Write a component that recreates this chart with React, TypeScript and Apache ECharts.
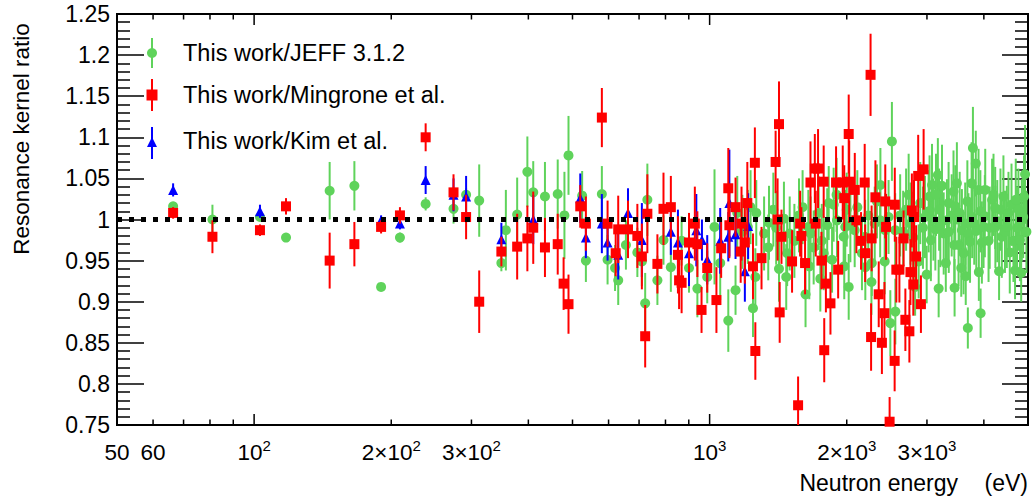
import { useEffect, useRef } from 'react';
import * as echarts from 'echarts';

const FONT = '"Liberation Sans", Arial, Helvetica, sans-serif';
const GREEN = '#5fd35b';
const RED = '#ff0000';
const BLUE = '#0000ff';

// [neutron energy (eV), ratio, error]
const jeffRatio: number[][] = [
  [66.4, 1.016, 0.005], [81, 1.0, 0.018], [103, 1.003, 0.005], [117.5, 0.978, 0.005],
  [146.5, 1.035, 0.035], [166, 1.041, 0.03], [190, 0.918, 0.005], [209, 0.978, 0.006],
  [238, 1.019, 0.008], [274, 1.013, 0.018], [292, 1.03, 0.008], [312, 1.023, 0.044],
  [349, 0.947, 0.01], [357, 0.987, 0.049], [378, 1.006, 0.045], [398, 1.058, 0.043],
  [410, 1.033, 0.038], [435, 1.028, 0.042], [464, 1.031, 0.042], [480, 1.005, 0.053],
  [490, 1.078, 0.048], [525, 1.029, 0.03], [535, 0.95, 0.026], [580, 1.031, 0.034],
  [597, 0.951, 0.03], [620, 0.941, 0.028], [630, 0.926, 0.03], [655, 0.969, 0.03],
  [694, 0.96, 0.03], [710, 0.949, 0.03], [722, 0.898, 0.037], [730, 1.024, 0.044],
  [768, 0.926, 0.03], [792, 0.975, 0.03], [822, 0.942, 0.03], [868, 0.974, 0.03],
  [901, 0.941, 0.03], [940, 0.916, 0.035], [988, 0.93, 0.032], [1025, 0.991, 0.07],
  [1055, 0.947, 0.045], [1099, 0.877, 0.038], [1140, 0.914, 0.03], [1150, 1.008, 0.045],
  [1180, 0.985, 0.045], [1213, 0.991, 0.045], [1230, 1.015, 0.045], [1245, 0.892, 0.035],
  [1260, 0.93, 0.035], [1266, 1.008, 0.04], [1317, 0.983, 0.045], [1345, 0.966, 0.04],
  [1350, 0.996, 0.045], [1380, 1.012, 0.045], [1400, 0.99, 0.045], [1420, 0.94, 0.04],
  [1456, 1.001, 0.045], [1473, 0.93, 0.04], [1480, 0.959, 0.04], [1499, 0.983, 0.045],
  [1535, 0.974, 0.045], [1571, 1.005, 0.045], [1600, 1.015, 0.045], [1624, 0.909, 0.04],
  [1647, 0.991, 0.045], [1655, 0.943, 0.04], [1666, 0.983, 0.045], [1692, 0.966, 0.045],
  [1735, 1.008, 0.045], [1750, 0.928, 0.04], [1763, 0.974, 0.045], [1780, 0.959, 0.045],
  [1812, 0.993, 0.045], [1826, 1.02, 0.045], [1857, 0.951, 0.04], [1872, 1.018, 0.045],
  [1900, 1.03, 0.045], [1904, 0.999, 0.045], [1969, 0.979, 0.045], [1975, 0.943, 0.04],
  [1985, 0.991, 0.045], [2000, 1.012, 0.045], [2020, 0.918, 0.04], [2037, 0.993, 0.045],
  [2082, 0.987, 0.045], [2110, 1.015, 0.045], [2160, 0.959, 0.045], [2195, 0.979, 0.045],
  [2197, 0.942, 0.04], [2230, 1.005, 0.045], [2266, 0.924, 0.04], [2270, 0.947, 0.04],
  [2304, 0.995, 0.045], [2330, 1.022, 0.045], [2368, 0.999, 0.045], [2371, 1.042, 0.045],
  [2423, 0.949, 0.04], [2430, 0.987, 0.045], [2471, 1.003, 0.045], [2493, 0.874, 0.04],
  [2513, 1.095, 0.048], [2555, 0.987, 0.045], [2557, 0.888, 0.04], [2620, 1.005, 0.05],
  [2660, 0.985, 0.05], [2700, 1.012, 0.05], [2735, 1.03, 0.05], [2760, 0.995, 0.05],
  [2800, 0.978, 0.05], [2826, 0.918, 0.035], [2877, 0.949, 0.045], [2900, 1.02, 0.05],
  [2940, 0.99, 0.05], [2970, 1.003, 0.05], [2996, 0.933, 0.035], [3026, 1.01, 0.05],
  [3040, 1.028, 0.05], [3060, 0.975, 0.05], [3078, 1.042, 0.05], [3100, 1.0, 0.05],
  [3130, 0.988, 0.05], [3140, 1.03, 0.05], [3170, 1.054, 0.045], [3183, 0.916, 0.035],
  [3190, 1.012, 0.05], [3210, 0.992, 0.05], [3237, 1.041, 0.05], [3265, 0.983, 0.05],
  [3300, 0.947, 0.035], [3319, 0.999, 0.05], [3347, 1.02, 0.05], [3350, 0.985, 0.05],
  [3400, 1.005, 0.05], [3431, 1.034, 0.05], [3445, 0.969, 0.05], [3450, 0.917, 0.035],
  [3462, 1.016, 0.05], [3490, 1.044, 0.05], [3520, 0.969, 0.05], [3540, 1.008, 0.05],
  [3568, 0.941, 0.035], [3580, 0.987, 0.05], [3610, 0.959, 0.05], [3640, 0.995, 0.05],
  [3650, 0.931, 0.035], [3680, 1.022, 0.05], [3689, 0.868, 0.025], [3700, 0.982, 0.05],
  [3730, 0.973, 0.05], [3760, 1.044, 0.05], [3770, 1.003, 0.05], [3785, 1.087, 0.05],
  [3810, 0.995, 0.05], [3840, 1.068, 0.04], [3850, 0.986, 0.05], [3894, 1.036, 0.05],
  [3900, 0.936, 0.035], [3930, 1.01, 0.05], [3935, 0.886, 0.03], [3960, 0.972, 0.05],
  [3994, 0.991, 0.05], [4020, 1.004, 0.05], [4028, 1.036, 0.05], [4096, 0.974, 0.05],
  [4120, 0.99, 0.05], [4170, 1.024, 0.05], [4200, 1.03, 0.05], [4236, 1.014, 0.05],
  [4240, 0.991, 0.05], [4280, 0.998, 0.05], [4320, 0.937, 0.035], [4350, 1.012, 0.05],
  [4380, 0.979, 0.05], [4416, 1.028, 0.05], [4450, 0.985, 0.05], [4492, 0.991, 0.05],
  [4530, 1.008, 0.05], [4560, 0.96, 0.05], [4600, 1.018, 0.05], [4645, 0.974, 0.05],
  [4683, 0.938, 0.035], [4700, 1.024, 0.05], [4730, 0.99, 0.05], [4764, 1.012, 0.05],
  [4800, 0.975, 0.05], [4830, 0.935, 0.035], [4845, 0.999, 0.05], [4880, 1.003, 0.05],
  [4900, 1.028, 0.05], [4926, 1.055, 0.06], [4960, 0.985, 0.05],
];

const mingroneRatio: number[][] = [
  [66.4, 1.008, 0.007], [81, 0.979, 0.02], [103, 0.987, 0.007], [117.5, 1.016, 0.01],
  [146.5, 0.95, 0.034], [166, 0.97, 0.027], [190, 0.991, 0.008], [209, 1.005, 0.01],
  [238, 1.1, 0.017], [274, 1.033, 0.022], [292, 1.003, 0.027], [312, 0.9, 0.038],
  [349, 0.961, 0.018], [378, 0.967, 0.04], [398, 0.977, 0.04], [410, 0.99, 0.044],
  [435, 0.966, 0.036], [464, 0.97, 0.037], [478, 0.922, 0.032], [490, 0.897, 0.036],
  [520, 1.016, 0.026], [535, 0.995, 0.033], [580, 1.124, 0.036], [597, 0.995, 0.028],
  [622, 0.959, 0.028], [630, 0.988, 0.041], [662, 0.988, 0.035], [694, 0.98, 0.039],
  [710, 0.955, 0.04], [722, 0.858, 0.038], [730, 1.007, 0.048], [768, 0.946, 0.036],
  [792, 1.013, 0.044], [822, 1.015, 0.038], [852, 0.957, 0.047], [857, 0.926, 0.035],
  [868, 0.923, 0.037], [901, 0.972, 0.036], [928, 0.995, 0.045], [940, 0.97, 0.04],
  [960, 0.89, 0.028], [988, 0.941, 0.03], [1035, 0.902, 0.04], [1060, 0.965, 0.036],
  [1099, 1.038, 0.049], [1105, 0.993, 0.04], [1140, 1.015, 0.036], [1170, 0.961, 0.038],
  [1175, 0.995, 0.045], [1195, 0.972, 0.05], [1210, 1.02, 0.05], [1245, 0.943, 0.04],
  [1257, 1.069, 0.043], [1260, 0.84, 0.035], [1300, 0.953, 0.038], [1396, 1.07, 0.038],
  [1410, 1.0, 0.05], [1420, 1.116, 0.052], [1425, 0.887, 0.037], [1438, 0.979, 0.033],
  [1517, 0.949, 0.038], [1564, 0.774, 0.035], [1580, 0.995, 0.04], [1590, 0.98, 0.035],
  [1620, 0.947, 0.038], [1665, 1.045, 0.05], [1702, 1.062, 0.042], [1710, 0.995, 0.04],
  [1730, 1.062, 0.048], [1760, 0.95, 0.035], [1780, 1.046, 0.044], [1785, 0.841, 0.039],
  [1800, 0.922, 0.035], [1842, 0.898, 0.038], [1895, 1.045, 0.044], [1915, 0.939, 0.035],
  [1960, 1.045, 0.045], [1975, 1.026, 0.04], [2020, 1.104, 0.048], [2025, 1.046, 0.05],
  [2083, 1.036, 0.045], [2100, 0.999, 0.04], [2150, 0.974, 0.035], [2190, 1.045, 0.047],
  [2195, 0.959, 0.035], [2256, 1.176, 0.05], [2262, 0.857, 0.041], [2268, 0.977, 0.04],
  [2312, 1.027, 0.045], [2351, 0.909, 0.04], [2389, 0.85, 0.038], [2420, 0.886, 0.038],
  [2430, 1.022, 0.045], [2440, 0.991, 0.04], [2484, 0.754, 0.03], [2548, 0.828, 0.037],
  [2550, 1.018, 0.045], [2570, 0.939, 0.04], [2610, 0.939, 0.04], [2666, 0.977, 0.034],
  [2690, 0.878, 0.038], [2745, 0.864, 0.038], [2760, 0.936, 0.04], [2780, 1.011, 0.045],
  [2800, 0.921, 0.038], [2810, 1.003, 0.045], [2840, 0.955, 0.038], [2870, 1.053, 0.05],
  [2910, 0.897, 0.035], [2950, 1.061, 0.049],
];

const kimRatio: number[][] = [
  [66.4, 1.036, 0.008], [103, 1.01, 0.008], [190, 0.999, 0.006], [209, 0.995, 0.007],
  [238, 1.048, 0.017], [274, 1.03, 0.02], [292, 1.028, 0.025], [349, 0.976, 0.02],
  [410, 1.0, 0.03], [520, 1.026, 0.03], [535, 0.978, 0.025], [580, 0.995, 0.036],
  [597, 0.972, 0.022], [630, 0.957, 0.03], [662, 1.008, 0.03], [710, 0.975, 0.045],
  [822, 0.985, 0.028], [852, 0.972, 0.04], [901, 0.959, 0.04], [935, 0.987, 0.044],
  [962, 0.975, 0.025], [988, 0.951, 0.03], [1055, 0.974, 0.04], [1099, 0.979, 0.03],
  [1105, 1.02, 0.065], [1140, 0.982, 0.03], [1195, 0.937, 0.037], [1215, 0.992, 0.04],
];

const referenceLine: number[][] = [[50, 1], [5000, 1]];

const xMin = 50;
const xMax = 5000;
const yMin = 0.75;
const yMax = 1.25;
const yStep = 0.05;
const xMajorTicks = [100, 1000];
const xMinorTicks = [60, 70, 80, 90, 200, 300, 400, 500, 600, 700, 800, 900, 2000, 3000, 4000];
const xLabelValues = [50, 60, 100, 200, 300, 1000, 2000, 3000];
const xLabelMantissa = ['50', '60', '', '2×', '3×', '', '2×', '3×'];
const xLabelExponent = ['', '', '2', '2', '2', '3', '3', '3'];

const legendLabels = ['This work/JEFF 3.1.2', 'This work/Mingrone et al.', 'This work/Kim et al.'];

function errorBars(data: number[][], color: string, z: number) {
  return {
    type: 'custom',
    clip: true,
    z,
    silent: true,
    data,
    encode: { x: 0, y: 1 },
    renderItem: (_p: any, api: any) => {
      const x = api.value(0);
      const y = api.value(1);
      const e = api.value(2);
      const a = api.coord([x, y - e]);
      const b = api.coord([x, y + e]);
      return {
        type: 'line',
        shape: { x1: a[0], y1: a[1], x2: b[0], y2: b[1] },
        style: { stroke: color, lineWidth: 2 },
      };
    },
  };
}

function markers(data: number[][], symbol: string, size: any, color: string, z: number) {
  return {
    type: 'scatter',
    clip: true,
    z,
    symbol,
    symbolSize: size,
    itemStyle: { color, opacity: 1 },
    data: data.map((d) => [d[0], d[1]]),
  };
}

export default function App() {
  const ref = useRef<HTMLDivElement>(null);
  useEffect(() => {
    if (!ref.current) return;
    const chart = echarts.init(ref.current, undefined, { renderer: 'svg' });
    const yAxisCommon = {
      type: 'value',
      min: yMin,
      max: yMax,
      interval: yStep,
      splitLine: { show: false },
      axisLine: { show: false },
      minorTick: { show: true, splitNumber: 5, length: 13, lineStyle: { color: '#000', width: 1.5 } },
    };
    chart.setOption({
      animation: false,
      backgroundColor: '#fff',
      grid: { left: 117, right: 6, top: 14, bottom: 72, show: true, borderColor: '#000', borderWidth: 2, backgroundColor: 'transparent' },
      xAxis: {
        type: 'log',
        logBase: 10,
        min: xMin,
        max: xMax,
        axisLine: { show: false },
        axisTick: { show: false },
        axisLabel: { show: false },
        splitLine: { show: false },
        minorTick: { show: false },
      },
      yAxis: [
        {
          ...yAxisCommon,
          position: 'left',
          axisTick: { show: true, inside: true, length: 27, lineStyle: { color: '#000', width: 1.5 } },
          axisLabel: {
            show: true,
            margin: 7,
            fontSize: 23,
            fontFamily: FONT,
            color: '#000',
            formatter: (v: number) => String(+v.toFixed(2)),
          },
        },
        {
          ...yAxisCommon,
          position: 'right',
          axisTick: { show: true, inside: true, length: 26, lineStyle: { color: '#000', width: 1.5 } },
          axisLabel: { show: false },
        },
      ],
      series: [
        errorBars(jeffRatio, GREEN, 2),
        markers(jeffRatio, 'circle', 10, GREEN, 3),
        errorBars(kimRatio, BLUE, 4),
        markers(kimRatio, 'triangle', [10, 10], BLUE, 5),
        errorBars(mingroneRatio, RED, 6),
        markers(mingroneRatio, 'rect', 10, RED, 7),
        {
          type: 'line',
          z: 9,
          data: referenceLine,
          symbol: 'none',
          silent: true,
          lineStyle: { color: '#000', width: 5, type: [5, 7], cap: 'butt' },
        },
      ],
    });

    const px = (v: number) => chart.convertToPixel({ xAxisIndex: 0 }, v) as number;
    const py = (v: number) => chart.convertToPixel({ yAxisIndex: 0 }, v) as number;
    const yBottom = py(yMin);
    const yTop = py(yMax);
    const graphics: any[] = [];
    const tick = (v: number, len: number) => {
      const x = px(v);
      graphics.push({ type: 'line', z: 20, shape: { x1: x, y1: yBottom, x2: x, y2: yBottom - len }, style: { stroke: '#000', lineWidth: 1.5 } });
      graphics.push({ type: 'line', z: 20, shape: { x1: x, y1: yTop, x2: x, y2: yTop + len }, style: { stroke: '#000', lineWidth: 1.5 } });
    };
    xMajorTicks.forEach((v) => tick(v, 11));
    xMinorTicks.forEach((v) => tick(v, 5.5));
    xLabelValues.forEach((v, i) => {
      const text = xLabelExponent[i]
        ? `{n|${xLabelMantissa[i]}10}{s|${xLabelExponent[i]}}`
        : `{n|${xLabelMantissa[i]}}`;
      graphics.push({
        type: 'text',
        z: 20,
        x: px(v),
        y: yBottom + 27,
        style: {
          text,
          align: 'center',
          verticalAlign: 'middle',
          fill: '#000',
          fontFamily: FONT,
          rich: {
            n: { fontSize: 22.5, lineHeight: 28, fontFamily: FONT, fill: '#000' },
            s: { fontSize: 15, lineHeight: 14, verticalAlign: 'top', fontFamily: FONT, fill: '#000' },
          },
        },
      });
    });
    // axis titles
    graphics.push({
      type: 'text', z: 20, x: 958, y: 483,
      style: { text: 'Neutron energy', align: 'right', verticalAlign: 'middle', fontSize: 23, fontFamily: FONT, fill: '#000' },
    });
    graphics.push({
      type: 'text', z: 20, x: 1028, y: 483,
      style: { text: '(eV)', align: 'right', verticalAlign: 'middle', fontSize: 23, fontFamily: FONT, fill: '#000' },
    });
    graphics.push({
      type: 'text', z: 20, x: 21, y: 139, rotation: Math.PI / 2,
      style: { text: 'Resonance kernel ratio', align: 'center', verticalAlign: 'middle', fontSize: 22.5, fontFamily: FONT, fill: '#000' },
    });
    // legend
    const lx = 152;
    const rows = [53, 95, 143];
    graphics.push({ type: 'line', z: 20, shape: { x1: lx, y1: rows[0] - 15, x2: lx, y2: rows[0] + 15 }, style: { stroke: GREEN, lineWidth: 2 } });
    graphics.push({ type: 'circle', z: 21, shape: { cx: lx, cy: rows[0], r: 5 }, style: { fill: GREEN } });
    graphics.push({ type: 'line', z: 20, shape: { x1: lx, y1: rows[1] - 16, x2: lx, y2: rows[1] + 16 }, style: { stroke: RED, lineWidth: 2 } });
    graphics.push({ type: 'rect', z: 21, shape: { x: lx - 5.5, y: rows[1] - 5.5, width: 11, height: 11 }, style: { fill: RED } });
    graphics.push({ type: 'line', z: 20, shape: { x1: lx, y1: rows[2] - 16, x2: lx, y2: rows[2] + 16 }, style: { stroke: BLUE, lineWidth: 2 } });
    graphics.push({ type: 'polygon', z: 21, shape: { points: [[lx, rows[2] - 6], [lx - 5, rows[2] + 4], [lx + 5, rows[2] + 4]] }, style: { fill: BLUE } });
    const textRows = [53, 95, 141];
    legendLabels.forEach((t, i) => {
      graphics.push({
        type: 'text', z: 20, x: 183, y: textRows[i],
        style: { text: t, align: 'left', verticalAlign: 'middle', fontSize: 23.5, fontFamily: FONT, fill: '#000' },
      });
    });
    chart.setOption({ graphic: graphics });
    return () => chart.dispose();
  }, []);
  return <div ref={ref} style={{ position: 'absolute', left: 0, top: 0, width: 1034, height: 497, background: '#fff' }} />;
}
